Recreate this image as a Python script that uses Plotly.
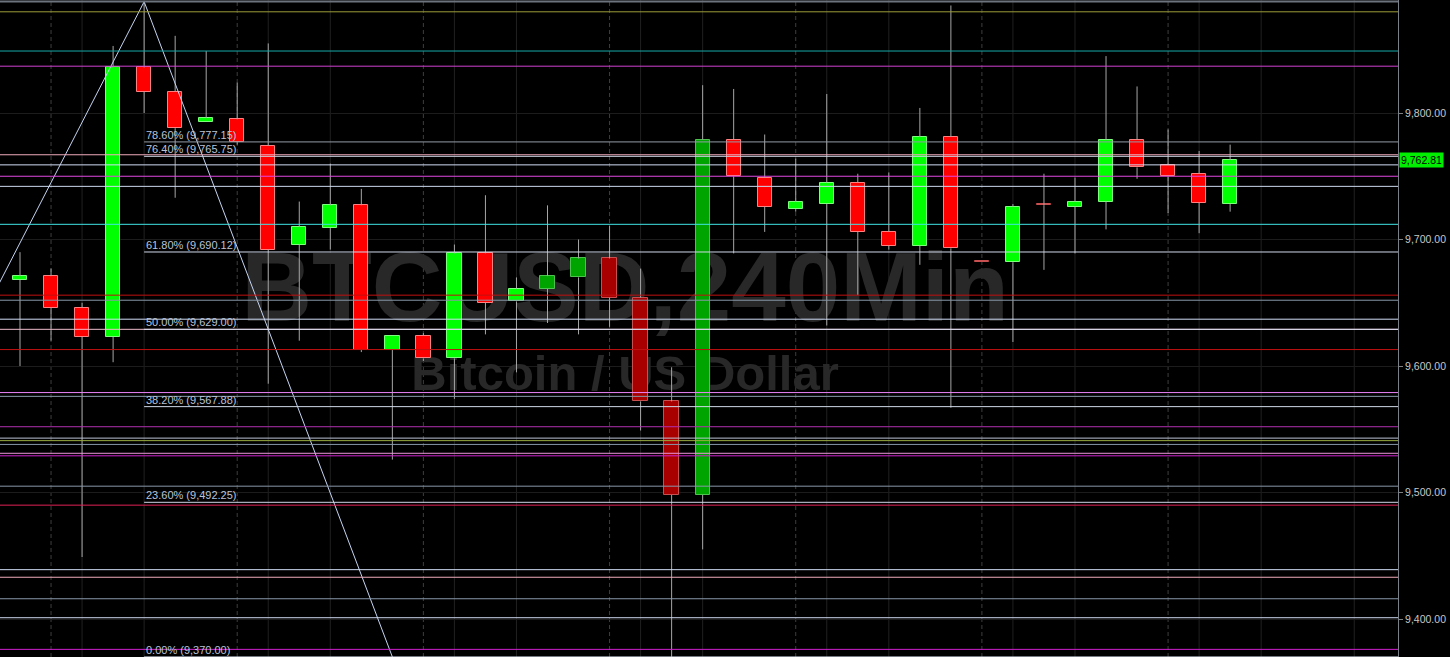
import plotly.graph_objects as go

# ---------------- data ----------------
candle_idx = list(range(40))
opens = [9668, 9671, 9646, 9623, 9836, 9817, 9793, 9795, 9774, 9696,
         9709, 9727, 9613, 9624, 9606, 9689, 9651, 9661, 9670, 9685,
         9654, 9572, 9498, 9779, 9749, 9724, 9728, 9745, 9706, 9695,
         9781, 9682, 9682, 9727, 9726, 9730, 9779, 9759, 9752, 9728]
highs = [9690, 9677, 9650, 9853, 9888, 9861, 9849, 9824, 9855, 9730,
         9760, 9740, 9624, 9626, 9696, 9735, 9670, 9727, 9700, 9711,
         9677, 9599, 9822, 9819, 9783, 9764, 9815, 9752, 9753, 9804,
         9885, 9682, 9728, 9752, 9749, 9845, 9821, 9787, 9770, 9775]
lows = [9600, 9620, 9449, 9603, 9800, 9733, 9793, 9775, 9586, 9620,
        9692, 9611, 9526, 9604, 9574, 9625, 9595, 9634, 9625, 9631,
        9549, 9370, 9455, 9689, 9706, 9722, 9632, 9656, 9692, 9680,
        9567, 9682, 9619, 9676, 9689, 9708, 9748, 9721, 9705, 9722]
closes = [9671, 9646, 9623, 9836, 9817, 9788, 9796, 9777, 9692, 9710,
          9727, 9613, 9624, 9606, 9689, 9650, 9661, 9671, 9685, 9654,
          9572, 9498, 9779, 9750, 9726, 9730, 9745, 9706, 9695, 9781,
          9693, 9682, 9726, 9727, 9730, 9779, 9757, 9750, 9729, 9762.81]
# candles painted in the darker (highlighted) shade
dark_candles = [17, 18, 19, 20, 21, 22, 31, 33]

# horizontal support / resistance levels
level_values = [9880, 9849, 9837, 9767, 9759, 9750, 9742, 9712, 9656, 9652,
                9637, 9629, 9613, 9579, 9576, 9552, 9543, 9541, 9538, 9531,
                9529, 9505, 9490, 9439, 9433, 9416, 9401, 9376]
level_colors = ['#9c9c38', '#16a8a8', '#d040d0', '#f0aabb', '#d0dcf4', '#e048e0',
                '#ccd8ee', '#40e4e4', '#c01010', '#8898aa', '#d0dcf4', '#f0bccc',
                '#c01010', '#ec84fa', '#8898aa', '#b030b0', '#bcc4d4', '#98ac40',
                '#8898aa', '#ec94dc', '#d020d0', '#8898aa', '#e02256', '#d0dcf4',
                '#eeaaba', '#8898aa', '#d0dcf4', '#d020d0']

# Fibonacci retracement
fib_high = 9888.0
fib_low = 9370.0
fib_start_idx = 4
fib_ratios = [0.786, 0.764, 0.618, 0.5, 0.382, 0.236, 0.0]
fib_colors = ['#949ca6', '#ccd4e2', '#d0d8e8', '#d8e0f0', '#d0d8e8', '#d0d8e8', '#d0d8e8']

# trend line (zig-zag) anchor points
trend_x = [-2, 4, 12]
trend_y = [9602, 9888, 9370]

# time grid marks (candle index)
day_marks = [1, 7, 13, 19, 25, 31, 37]
session_marks = [2, 4, 8, 10, 14, 16, 20, 22, 26, 28, 32, 34, 38, 40, 43]

title_text = "BTCUSD,240Min"
subtitle_text = "Bitcoin / US Dollar"

x_range = [-0.645, 44.41]
y_range = [9369.96, 9889.33]
y_ticks = [9400, 9500, 9600, 9700, 9800]

# ---------------- figure ----------------
fig = go.Figure()

FONT = "Liberation Sans, Arial, sans-serif"

# watermark on the base axes (drawn underneath everything else)
fig.add_trace(go.Scatter(
    x=[19.5, 19.5], y=[9655, 9591], mode="text",
    text=[title_text, subtitle_text],
    textfont=dict(family=FONT, size=[98, 49], color="#282828", weight="bold"),
    textposition="middle center", hoverinfo="skip", showlegend=False,
    xaxis="x", yaxis="y"))

# bodies
body_base, body_h, body_fill, body_line = [], [], [], []
for i, (o, c) in enumerate(zip(opens, closes)):
    lo, hi = min(o, c), max(o, c)
    h = max(hi - lo, 1.3)
    body_base.append(lo)
    body_h.append(h)
    up = c > o
    dark = i in dark_candles
    if up:
        body_fill.append('#00a400' if dark else '#00ff00')
        body_line.append('#4ec24e' if dark else '#7dff7d')
    else:
        body_fill.append('#a80000' if dark else '#ff0000')
        body_line.append('#c85050' if dark else '#ff8080')

# wicks (above and below body)
wx, wy = [], []
for i, (o, h, l, c) in enumerate(zip(opens, highs, lows, closes)):
    top, bot = max(o, c), min(o, c)
    if h > top:
        wx += [i, i, None]
        wy += [h, top, None]
    if l < bot:
        wx += [i, i, None]
        wy += [bot, l, None]

fig.add_trace(go.Scatter(x=wx, y=wy, mode="lines",
                         line=dict(color="#a6a6a6", width=1),
                         hoverinfo="skip", showlegend=False,
                         xaxis="x2", yaxis="y2"))

fig.add_trace(go.Bar(x=candle_idx, y=body_h, base=body_base, width=0.46,
                     marker=dict(color=body_fill, line=dict(color=body_line, width=1)),
                     hoverinfo="skip", showlegend=False,
                     xaxis="x2", yaxis="y2"))

fig.add_trace(go.Scatter(x=trend_x, y=trend_y, mode="lines",
                         line=dict(color="#c4d4f2", width=1),
                         hoverinfo="skip", showlegend=False,
                         xaxis="x2", yaxis="y2"))

shapes = []
# time grid
for d in day_marks:
    shapes.append(dict(type="line", xref="x", yref="paper", x0=d, x1=d, y0=0, y1=1,
                       line=dict(color="#3e3e3e", width=1, dash="4px,3px"), layer="below"))
for s in session_marks:
    shapes.append(dict(type="line", xref="x", yref="paper", x0=s, x1=s, y0=0, y1=1,
                       line=dict(color="#202020", width=1), layer="below"))
# levels
for v, col in zip(level_values, level_colors):
    shapes.append(dict(type="line", xref="paper", yref="y", x0=0, x1=1, y0=v, y1=v,
                       line=dict(color=col, width=1), layer="above"))
# fib lines
annotations = []
for r, col in zip(fib_ratios, fib_colors):
    v = fib_low + r * (fib_high - fib_low)
    shapes.append(dict(type="line", xref="x", yref="y", x0=fib_start_idx, x1=x_range[1],
                       y0=v, y1=v, line=dict(color=col, width=1), layer="above"))
    annotations.append(dict(xref="x", yref="y", x=fib_start_idx, y=v,
                            text=f"{r*100:.2f}% ({v:,.2f})", showarrow=False,
                            xanchor="left", yanchor="bottom", xshift=0, yshift=-1,
                            font=dict(family=FONT, size=11, color="#b8c4dc")))
# top border
shapes.append(dict(type="line", xref="paper", yref="paper", x0=0, x1=1,
                   y0=1 - 1.5 / 657, y1=1 - 1.5 / 657,
                   line=dict(color="#6c737c", width=2), layer="above"))

# last price tag
annotations.append(dict(xref="paper", yref="y", x=1, y=closes[-1],
                        text=f"{closes[-1]:,.2f}", showarrow=False,
                        xanchor="left", yanchor="middle", xshift=1,
                        bgcolor="#00ee00", borderpad=1,
                        font=dict(family=FONT, size=10.5, color="#000000")))

fig.update_layout(
    width=1450, height=657,
    margin=dict(l=0, r=52, t=0, b=0, pad=0),
    paper_bgcolor="#000000", plot_bgcolor="#000000",
    showlegend=False, bargap=0,
    shapes=shapes, annotations=annotations,
    xaxis=dict(range=x_range, visible=False, fixedrange=True),
    yaxis=dict(range=y_range, side="right", tickvals=y_ticks,
               ticktext=[f"{t:,.2f}" for t in y_ticks],
               ticks="outside", ticklen=4, tickcolor="#808080",
               showline=True, linecolor="#7a8088", linewidth=1,
               showgrid=True, gridcolor="#1c1c1c", gridwidth=1,
               zeroline=False, automargin=False, fixedrange=True,
               tickfont=dict(family=FONT, size=10.5, color="#c8c8c8")),
    xaxis2=dict(range=x_range, overlaying="x", visible=False, fixedrange=True),
    yaxis2=dict(range=y_range, overlaying="y", visible=False, fixedrange=True),
)

fig.write_html("out.html", config={"displayModeBar": False},
               post_script="document.body.style.margin='0';document.body.style.overflow='hidden';")
